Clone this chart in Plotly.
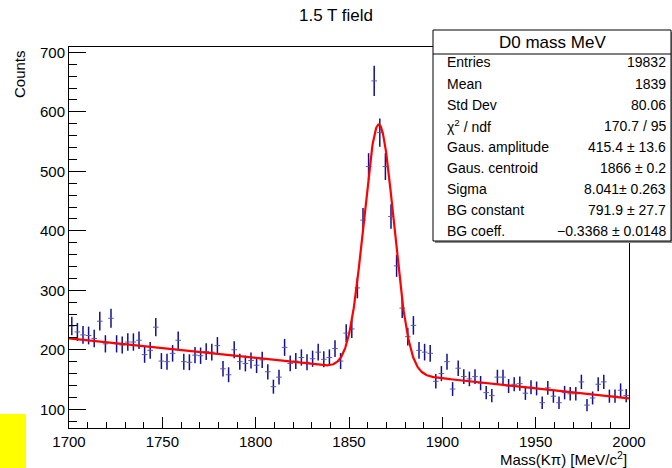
import numpy as np
import plotly.graph_objects as go

W, H = 672, 468

# ---- data ----
bin_lo, bin_w, n_bins = 1700.0, 3.0, 100
counts = [
    240, 230, 225, 224, 219, 248, 210, 253, 210, 208,
    213, 213, 216, 192, 199, 238, 181, 180, 194, 216,
    180, 179, 191, 190, 197, 196, 207, 168, 158, 200,
    180, 177, 182, 174, 183, 163, 138, 154, 204, 177,
    181, 187, 179, 185, 196, 184, 187, 202, 181, 228,
    235, 304, 418, 508, 652, 565, 508, 424, 341, 270,
    222, 241, 199, 196, 194, 147, 160, 180, 134, 169,
    155, 151, 155, 144, 128, 123, 154, 154, 139, 142,
    143, 127, 137, 135, 111, 136, 122, 111, 128, 126,
    126, 146, 107, 119, 142, 146, 122, 122, 132, 123,
]
x_ticks = [1700, 1750, 1800, 1850, 1900, 1950, 2000]
y_ticks = [100, 200, 300, 400, 500, 600, 700]

# fit parameters (from stats box)
GAUS_AMP = 415.4
GAUS_MU = 1866.0
GAUS_SIGMA = 8.041
BG_CONST = 791.9
BG_COEFF = -0.3368

stats_rows = [
    ("Entries", "19832"),
    ("Mean", "1839"),
    ("Std Dev", "80.06"),
    ("χ<sup>2</sup> / ndf", "170.7 / 95"),
    ("Gaus. amplitude", "415.4 ± 13.6"),
    ("Gaus. centroid", "1866 ± 0.2"),
    ("Sigma", "8.041± 0.263"),
    ("BG constant", "791.9 ± 27.7"),
    ("BG coeff.", "−0.3368 ± 0.0148"),
]

centers = [bin_lo + bin_w * (i + 0.5) for i in range(n_bins)]
errs = [float(np.sqrt(c)) for c in counts]

xf = np.linspace(1700, 2000, 1201)
yf = GAUS_AMP * np.exp(-0.5 * ((xf - GAUS_MU) / GAUS_SIGMA) ** 2) + BG_CONST + BG_COEFF * xf


def px(x):
    return x / W


def py(y):
    return 1 - y / H


FONT = "Liberation Sans, Arial, Helvetica, sans-serif"
BLUE = "#10108f"

fig = go.Figure()
fig.add_trace(go.Scatter(
    x=centers, y=counts, mode="markers",
    marker=dict(size=1, color="rgba(0,0,0,0)"),
    error_y=dict(type="data", array=errs, color=BLUE, thickness=1.5, width=0),
    error_x=dict(type="constant", value=bin_w / 2, color="#5a5ab4", thickness=1, width=0),
    showlegend=False, hoverinfo="skip",
))
fig.add_trace(go.Scatter(
    x=xf, y=yf, mode="lines", line=dict(color="#ff0000", width=2.2),
    showlegend=False, hoverinfo="skip",
))

frame_l, frame_r, frame_t, frame_b = 69, 629, 47, 428

fig.update_layout(
    width=W, height=H, margin=dict(l=0, r=0, t=0, b=0, autoexpand=False),
    paper_bgcolor="white", plot_bgcolor="white",
    font=dict(family=FONT, color="black"),
    xaxis=dict(
        domain=[px(frame_l), px(frame_r)], range=[1700, 2000], automargin=False,
        tickvals=x_ticks, ticktext=[str(v) for v in x_ticks],
        ticks="inside", ticklen=11, tickwidth=1, tickcolor="black",
        minor=dict(dtick=10, tick0=1700, ticks="inside", ticklen=6, tickwidth=1, tickcolor="black", showgrid=False),
        showline=True, linecolor="black", linewidth=1, mirror=True,
        showgrid=False, zeroline=False, tickfont=dict(size=15, family=FONT),
    ),
    yaxis=dict(
        domain=[py(frame_b), py(frame_t)], range=[68.5, 709], automargin=False,
        tickvals=y_ticks, ticktext=[str(v) for v in y_ticks],
        ticks="inside", ticklen=17, tickwidth=1, tickcolor="black",
        minor=dict(dtick=20, tick0=0, ticks="inside", ticklen=8, tickwidth=1, tickcolor="black", showgrid=False),
        showline=True, linecolor="black", linewidth=1, mirror=True,
        showgrid=False, zeroline=False, tickfont=dict(size=15, family=FONT),
    ),
)

shapes = []
annots = []

# stats box
bx0, bx1, by0, by1 = 433, 671, 30, 241
shapes.append(dict(type="rect", xref="paper", yref="paper",
                   x0=px(bx0 + 2), x1=px(bx1 + 1), y0=py(by1 + 2), y1=py(by0 + 2),
                   fillcolor="#8a8a8a", line=dict(width=0), layer="above"))
shapes.append(dict(type="rect", xref="paper", yref="paper",
                   x0=px(bx0), x1=px(bx1), y0=py(by1), y1=py(by0),
                   fillcolor="white", line=dict(color="black", width=1), layer="above"))
shapes.append(dict(type="line", xref="paper", yref="paper",
                   x0=px(bx0), x1=px(bx1), y0=py(54), y1=py(54),
                   line=dict(color="black", width=1), layer="above"))
# yellow block
shapes.append(dict(type="rect", xref="paper", yref="paper",
                   x0=0, x1=px(26), y0=0, y1=py(414),
                   fillcolor="#ffff00", line=dict(width=0), layer="above"))

annots.append(dict(text="D0 mass MeV", x=px((bx0 + bx1) / 2), y=py(42), xref="paper", yref="paper",
                   xanchor="center", yanchor="middle", showarrow=False, font=dict(size=17)))
row_y0, row_dy = 62.5, 21.1
for i, (lab, val) in enumerate(stats_rows):
    yy = row_y0 + i * row_dy
    annots.append(dict(text=lab, x=px(445), y=py(yy), xref="paper", yref="paper",
                       xanchor="left", yanchor="middle", showarrow=False, font=dict(size=14)))
    annots.append(dict(text=val, x=px(668), y=py(yy), xref="paper", yref="paper",
                       xanchor="right", yanchor="middle", showarrow=False, font=dict(size=14)))

annots.append(dict(text="1.5 T field", x=px(336), y=py(16), xref="paper", yref="paper",
                   xanchor="center", yanchor="middle", showarrow=False, font=dict(size=17)))
annots.append(dict(text="Counts", x=px(20), y=py(48), xref="paper", yref="paper",
                   xanchor="center", yanchor="top", textangle=-90, showarrow=False, font=dict(size=15)))
annots.append(dict(text="Mass(Kπ) [MeV/c<sup>2</sup>]", x=px(629), y=py(447), xref="paper", yref="paper",
                   xanchor="right", yanchor="top", showarrow=False, font=dict(size=15)))

fig.update_layout(shapes=shapes, annotations=annots)
fig.write_html("out.html")
